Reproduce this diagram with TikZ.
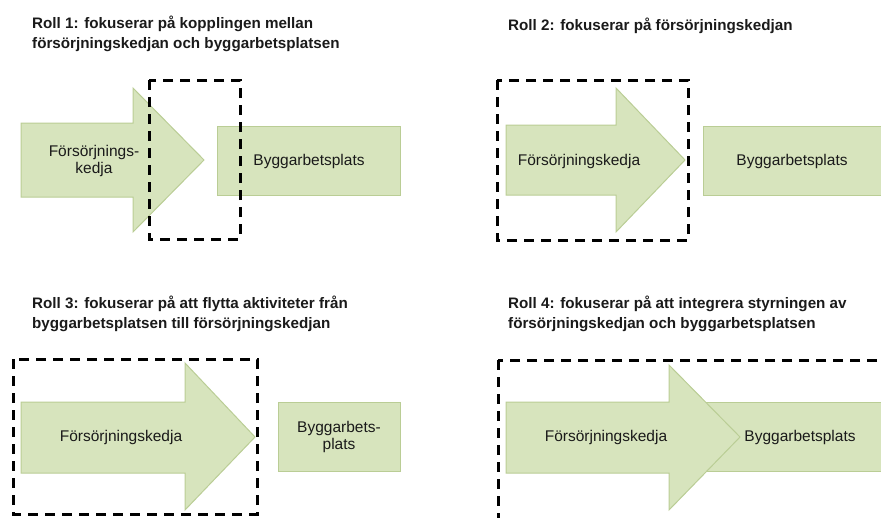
\documentclass[tikz,border=0pt]{standalone}
\usepackage{fontspec}
\setmainfont{Liberation Sans}
\usetikzlibrary{positioning}
\definecolor{leaf}{HTML}{D7E4BD}
\definecolor{leafline}{HTML}{BACD95}
\definecolor{ink}{HTML}{1A1A1A}

\begin{document}
\begin{tikzpicture}[
x=1pt,y=-1pt,
title/.style={anchor=base west,align=left,font=\bfseries\fontsize{15.2}{19.5}\selectfont,text=ink,inner sep=0pt},
label/.style={align=center,font=\fontsize{15.5}{17.5}\selectfont,text=ink,inner sep=0pt},
site/.style={draw=leafline,fill=leaf,line width=1pt,inner sep=0pt},
chain/.style={draw=leafline,fill=leaf,line width=1pt,line join=miter},
focus/.style={draw=black,line width=3pt,dash pattern=on 10pt off 7pt}
]
\useasboundingbox (0,0) rectangle (881,517);
% Roll 1
\node[title] (t1) at (32,48) {Roll 1: fokuserar på kopplingen mellan\\försörjningskedjan och byggarbetsplatsen};
\draw[chain] (21,123) -- (133,123) -- (133,88) -- (204,160) -- (133,232) -- (133,197) -- (21,197) -- cycle;
\node[label] (sc1) at (94,161) {Försörjnings-\\kedja};
\node[site,minimum width=183pt,minimum height=69pt] (bp1) at (308.5,160.5) {};
\node[label] (bl1) at (309,161) {Byggarbetsplats};
\draw[focus] (149,80) rectangle (240,239);
% Roll 2
\node[title] (t2) at (508,30) {Roll 2: fokuserar på försörjningskedjan};
\draw[chain] (506,125) -- (616,125) -- (616,88) -- (685,160) -- (616,232) -- (616,195) -- (506,195) -- cycle;
\node[label] (sc2) at (579,161) {Försörjningskedja};
\node[site,minimum width=185pt,minimum height=69pt] (bp2) at (795.5,160.5) {};
\node[label] (bl2) at (792,161) {Byggarbetsplats};
\draw[focus] (497,80) rectangle (688,240);
% Roll 3
\node[title] (t3) at (32,328) {Roll 3: fokuserar på att flytta aktiviteter från\\byggarbetsplatsen till försörjningskedjan};
\draw[chain] (21,402) -- (185,402) -- (185,363) -- (255,437) -- (185,510) -- (185,473) -- (21,473) -- cycle;
\node[label] (sc3) at (121,437) {Försörjningskedja};
\node[site,minimum width=122pt,minimum height=69pt] (bp3) at (339,436.5) {};
\node[label] (bl3) at (339,437) {Byggarbets-\\plats};
\draw[focus] (13,359) rectangle (257,514);
% Roll 4
\node[title] (t4) at (508,328) {Roll 4: fokuserar på att integrera styrningen av\\försörjningskedjan och byggarbetsplatsen};
\node[site,minimum width=190pt,minimum height=69pt] (bp4) at (795,436.5) {};
\draw[chain] (506,402) -- (669,402) -- (669,365) -- (740,437) -- (669,510) -- (669,473) -- (506,473) -- cycle;
\node[label] (sc4) at (606,437) {Försörjningskedja};
\node[label] (bl4) at (800,437) {Byggarbetsplats};
\draw[focus] (498,360) rectangle (895,535);
\end{tikzpicture}
\end{document}
